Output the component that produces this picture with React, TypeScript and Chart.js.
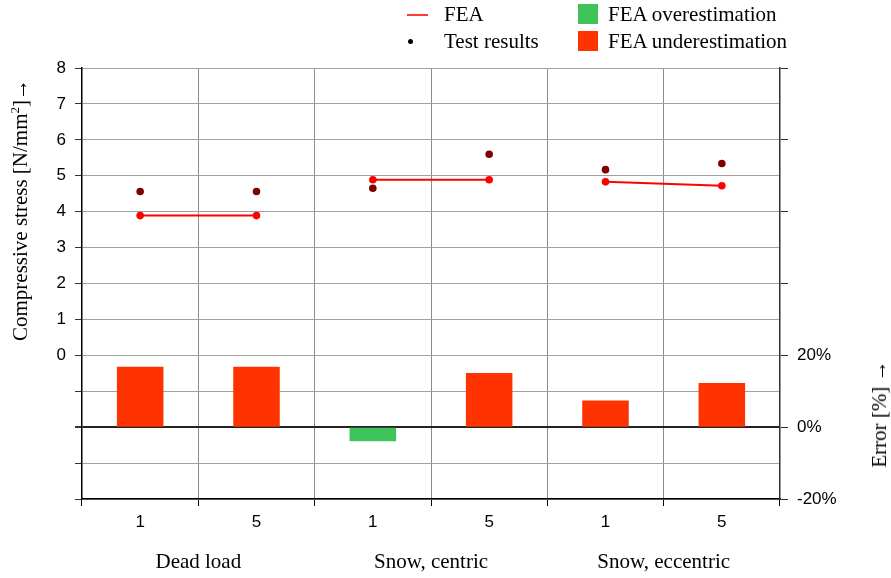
import React, { useEffect, useRef } from 'react';
import { Chart, registerables } from 'chart.js';

Chart.register(...registerables);

const categories = ['1', '5', '1', '5', '1', '5'];
const groupLabels = ['Dead load', 'Snow, centric', 'Snow, eccentric'];
const feaStress = [3.89, 3.89, 4.89, 4.89, 4.83, 4.72];
const testStress = [4.56, 4.56, 4.65, 5.6, 5.17, 5.34];
const errorPercent = [16.8, 16.8, -3.9, 15.1, 7.4, 12.3];
const stressTickLabels = [0, 1, 2, 3, 4, 5, 6, 7, 8];
const errorTickLabels = [-20, 0, 20];

const SERIF = '"Liberation Serif", "Times New Roman", serif';
const SANS = '"Liberation Sans", Arial, sans-serif';
const RED_BAR = '#ff3300';
const GREEN_BAR = '#3dc35a';
const FEA_RED = '#ff0000';
const TEST_DARK = '#7f0000';

export default function App() {
  const canvasRef = useRef<HTMLCanvasElement | null>(null);

  useEffect(() => {
    const canvas = canvasRef.current;
    if (!canvas) return;
    const chart = new Chart(canvas, {
      type: 'bar',
      data: {
        labels: categories,
        datasets: [
          {
            type: 'line',
            label: 'FEA',
            data: feaStress,
            yAxisID: 'y',
            borderColor: FEA_RED,
            backgroundColor: FEA_RED,
            borderWidth: 2,
            pointRadius: 3.8,
            pointBorderWidth: 0,
            pointBackgroundColor: FEA_RED,
            segment: {
              borderColor: (ctx: any) => (ctx.p0DataIndex % 2 === 1 ? 'rgba(0,0,0,0)' : undefined),
            },
            order: 1,
          } as any,
          {
            type: 'line',
            label: 'Test results',
            data: testStress,
            yAxisID: 'y',
            showLine: false,
            borderColor: TEST_DARK,
            backgroundColor: TEST_DARK,
            pointRadius: 3.8,
            pointBorderWidth: 0,
            pointBackgroundColor: TEST_DARK,
            order: 2,
          } as any,
          {
            type: 'bar',
            label: 'Error',
            data: errorPercent,
            yAxisID: 'y2',
            backgroundColor: errorPercent.map((v) => (v < 0 ? GREEN_BAR : RED_BAR)),
            borderWidth: 0,
            barPercentage: 0.4,
            categoryPercentage: 1,
            order: 3,
          } as any,
        ],
      },
      options: {
        responsive: false,
        animation: false,
        layout: { padding: { top: 68, left: 0, right: 0, bottom: 0 } },
        plugins: {
          legend: { display: false },
          tooltip: { enabled: false },
        },
        scales: {
          x: {
            type: 'category',
            position: 'bottom',
            offset: true,
            weight: 1,
            grid: {
              offset: true,
              color: '#8c8c8c',
              tickColor: '#000',
              tickLength: 7,
              lineWidth: 1,
            },
            border: { color: '#000', width: 1.5 },
            ticks: {
              color: '#000',
              padding: 6,
              font: { family: SANS, size: 17 },
            },
            afterFit: (s: any) => {
              s.height = 40;
            },
          },
          xg: {
            type: 'category',
            labels: groupLabels,
            position: 'bottom',
            offset: true,
            weight: 10,
            grid: { display: false, drawTicks: false, tickLength: 0 },
            border: { display: false },
            ticks: {
              color: '#000',
              padding: 11,
              font: { family: SERIF, size: 21 },
            },
            afterFit: (s: any) => {
              s.height = 39;
            },
          },
          y: {
            type: 'linear',
            position: 'left',
            min: -4,
            max: 8,
            ticks: {
              stepSize: 1,
              color: '#000',
              padding: 9,
              font: { family: SANS, size: 17 },
              callback: (v: any) => (stressTickLabels.includes(Number(v)) ? String(v) : ''),
            },
            grid: {
              color: (ctx: any) => (ctx.tick && ctx.tick.value === -2 ? '#222' : '#a0a0a0'),
              lineWidth: (ctx: any) => (ctx.tick && ctx.tick.value === -2 ? 2 : 1),
              tickColor: '#333',
              tickLength: 7,
            },
            border: { color: '#000', width: 1.5 },
            afterFit: (s: any) => {
              s.width = 82;
            },
          },
          y2: {
            type: 'linear',
            position: 'right',
            min: -20,
            max: 100,
            ticks: {
              stepSize: 20,
              color: '#000',
              padding: 9,
              font: { family: SANS, size: 17 },
              callback: (v: any) => (errorTickLabels.includes(Number(v)) ? v + '%' : ''),
            },
            grid: {
              drawOnChartArea: false,
              tickColor: '#333',
              tickLength: 8,
            },
            border: { color: '#333', width: 1.5 },
            afterFit: (s: any) => {
              s.width = 111;
            },
          },
        },
      } as any,
    });
    return () => chart.destroy();
  }, []);

  const legendText: React.CSSProperties = {
    position: 'absolute',
    fontFamily: SERIF,
    fontSize: 21,
    lineHeight: '21px',
    whiteSpace: 'nowrap',
    color: '#000',
  };

  return (
    <div style={{ position: 'absolute', left: 0, top: 0, width: 891, height: 578, background: '#fff', overflow: 'hidden' }}>
      <canvas ref={canvasRef} width={891} height={578} style={{ display: 'block', width: 891, height: 578 }} />
      {/* Legend */}
      <div style={{ position: 'absolute', left: 407, top: 14, width: 21, height: 2, background: '#ff3a3a' }} />
      <div style={{ ...legendText, left: 444, top: 4 }}>FEA</div>
      <div style={{ position: 'absolute', left: 408, top: 39, width: 5, height: 5, borderRadius: '50%', background: '#000' }} />
      <div style={{ ...legendText, left: 444, top: 31 }}>Test results</div>
      <div style={{ position: 'absolute', left: 578, top: 4, width: 20, height: 20, background: GREEN_BAR }} />
      <div style={{ ...legendText, left: 608, top: 4 }}>FEA overestimation</div>
      <div style={{ position: 'absolute', left: 578, top: 31, width: 20, height: 20, background: RED_BAR }} />
      <div style={{ ...legendText, left: 608, top: 31 }}>FEA underestimation</div>
      {/* Axis titles */}
      <div
        style={{
          position: 'absolute',
          left: 20,
          top: 210,
          transform: 'translate(-50%, -50%) rotate(-90deg)',
          whiteSpace: 'nowrap',
          fontFamily: SERIF,
          fontSize: 21,
          lineHeight: '24px',
          color: '#000',
        }}
      >
        Compressive stress [N/mm<sup style={{ fontSize: '0.62em', lineHeight: 0 }}>2</sup>]→
      </div>
      <div
        style={{
          position: 'absolute',
          left: 879,
          top: 414,
          transform: 'translate(-50%, -50%) rotate(-90deg)',
          whiteSpace: 'nowrap',
          fontFamily: SERIF,
          fontSize: 21,
          lineHeight: '24px',
          color: '#000',
        }}
      >
        Error [%] →
      </div>
    </div>
  );
}
